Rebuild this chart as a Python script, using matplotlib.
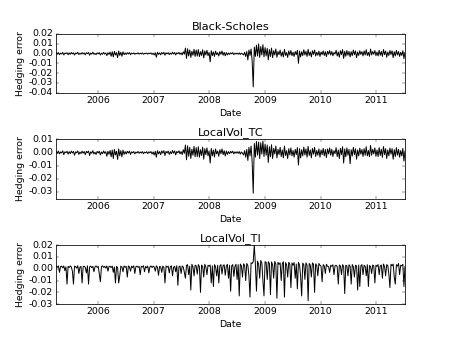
import matplotlib
matplotlib.use("Agg")
import matplotlib.pyplot as plt
import matplotlib.dates as mdates
from matplotlib.ticker import MultipleLocator, FormatStrFormatter
import numpy as np
import pandas as pd

# Hedging errors in units of 1e-3, roughly weekly from 2005-04 to 2011-07
bs_milli = [
    0.5,-0.8,0.9,-1.2,0.3,-0.5,1.1,-1.5,0.4,-0.2,0.8,-1.3,0.6,
    -0.9,1.0,-0.4,0.7,-1.6,0.5,-0.3,1.2,-1.1,0.2,-0.7,0.9,-0.5,
    0.6,-1.4,0.8,-0.2,1.0,-1.8,0.4,-0.6,1.3,-0.9,0.1,-1.2,0.7,
    -0.4,0.9,-1.5,0.3,-0.8,1.1,-0.6,0.5,-2.2,0.8,-1.0,1.4,-2.8,
    1.8,-3.5,2.2,-1.6,0.9,-4.2,2.5,-2.0,1.3,-2.8,1.7,-1.2,0.6,
    -1.0,0.8,-0.5,1.0,-1.2,0.4,-0.3,0.6,-0.9,0.2,-0.4,0.7,-0.6,
    0.3,-0.5,0.6,-0.8,0.2,-0.3,0.5,-0.7,0.4,-0.2,0.6,-1.0,0.3,
    -1.5,0.8,-3.8,1.2,-0.9,0.6,-1.4,1.0,-0.5,1.2,-1.8,0.7,-0.4,
    0.9,-1.2,0.5,-0.8,1.3,-0.6,1.0,-1.5,0.7,-0.3,1.1,-0.9,0.6,
    -1.4,1.8,-0.7,5.5,-5.0,4.8,-2.5,3.6,-4.0,2.2,-1.8,4.2,-3.0,
    3.5,-2.6,4.0,-3.2,1.8,-2.0,3.8,-4.5,2.6,-1.5,3.2,-2.2,1.0,
    -8.5,2.8,-2.2,1.6,-3.0,2.4,-1.2,0.8,-2.6,1.9,-0.9,2.5,-1.8,
    1.2,-2.4,0.9,-1.5,0.5,-1.0,0.7,-0.4,0.9,-1.2,0.3,-0.6,0.4,
    -0.8,0.6,-1.0,0.3,-0.5,-1.5,1.2,-3.0,2.0,-6.5,3.5,-2.0,4.5,
    -7.5,-34.0,6.5,-3.0,8.5,-2.5,9.8,-4.0,7.0,-1.5,9.0,-3.5,6.0,
    -2.5,5.2,-6.5,4.0,-3.0,5.5,-4.2,2.8,-1.5,4.6,-3.8,2.0,-1.2,
    3.5,-2.8,1.5,-3.5,4.2,-2.0,1.0,-4.0,2.6,-1.5,3.0,-2.2,1.2,
    -3.0,2.0,-1.2,3.2,-10.0,2.5,-3.5,1.8,-2.2,3.8,-1.5,2.2,-3.0,
    4.2,-2.0,1.5,-3.5,2.8,-1.0,3.5,-2.5,1.2,-1.8,2.4,-3.0,1.5,
    -1.2,2.6,-2.0,1.8,-3.2,2.2,-0.8,3.0,-1.5,2.0,-2.4,1.0,-0.6,
    3.2,-2.5,1.5,-3.8,2.8,-1.0,4.0,-5.0,2.2,-2.8,3.0,-1.8,2.0,
    -3.5,1.8,-2.2,3.5,-1.2,2.6,-4.2,1.5,-2.0,2.8,-1.0,1.9,-2.5,
    2.5,-1.5,3.8,-2.0,1.2,-2.8,4.5,-1.5,2.0,-0.8,3.0,-2.2,1.5,
    -2.5,3.2,-1.8,2.0,-3.0,4.0,-1.2,2.5,-3.8,1.5,-2.0,3.0,-1.0,
    2.6,-4.2,1.8,-2.5,3.2,-1.5,2.0,-3.0,1.2,-2.0,2.8,-5.2,1.0,
]

tc_milli = [
    0.8,-0.6,1.2,-1.0,0.5,-0.3,1.4,-1.6,0.6,-0.1,1.0,-1.2,0.7,
    -0.8,1.2,-0.3,0.9,-2.0,0.6,-0.2,1.3,-1.4,0.4,-0.8,1.1,-0.4,
    0.8,-1.6,1.0,-0.1,1.2,-2.2,0.6,-0.5,1.5,-1.1,0.3,-1.4,0.9,
    -0.3,1.1,-1.8,0.5,-0.9,1.3,-0.5,0.7,-2.8,1.0,-1.3,1.6,-3.2,
    2.0,-4.5,2.4,-1.8,1.1,-5.2,2.8,-2.4,1.5,-3.2,1.9,-1.4,0.8,
    -1.1,1.0,-0.4,1.2,-1.4,0.6,-0.2,0.8,-1.0,0.4,-0.3,0.9,-0.5,
    0.5,-0.4,0.8,-0.9,0.4,-0.2,0.7,-0.8,0.6,-0.1,0.8,-1.1,0.5,
    -1.8,1.0,-3.5,1.5,-1.0,0.8,-1.6,1.3,-0.4,1.5,-2.2,0.9,-0.3,
    1.2,-1.4,0.7,-0.9,1.6,-0.5,1.3,-1.8,0.9,-0.2,1.4,-1.0,0.8,
    -1.5,2.2,-0.6,5.8,-5.5,5.2,-2.8,4.0,-4.5,2.6,-2.0,4.8,-3.2,
    3.8,-3.0,4.5,-3.5,2.2,-2.2,4.2,-5.0,3.0,-1.6,3.6,-2.5,1.3,
    -8.0,3.2,-2.5,2.0,-3.4,2.8,-1.0,1.2,-2.8,2.2,-0.8,2.8,-1.6,
    1.5,-2.6,1.2,-1.4,0.8,-0.9,1.0,-0.3,1.1,-1.0,0.6,-0.5,0.7,
    -0.6,0.8,-1.2,0.5,-0.4,-1.8,1.5,-3.5,2.4,-6.0,4.0,-2.5,5.0,
    -7.0,-31.0,7.0,-3.5,8.5,-2.0,8.0,-4.5,7.5,-1.2,8.8,-3.0,6.5,
    -2.0,5.8,-7.5,4.5,-3.2,6.0,-4.5,3.2,-1.0,5.0,-4.0,2.5,-1.5,
    4.0,-3.0,2.0,-4.0,5.0,-2.2,1.5,-4.5,3.0,-1.8,3.5,-2.5,1.6,
    -3.5,2.5,-1.5,3.8,-9.5,3.0,-4.0,2.2,-2.5,4.2,-1.8,2.8,-3.5,
    4.8,-2.2,2.0,-4.0,3.2,-1.2,4.0,-3.0,1.6,-2.0,2.8,-3.5,2.0,
    -1.5,3.2,-2.5,2.4,-3.8,2.8,-1.0,3.6,-2.0,2.5,-3.0,1.5,-0.8,
    3.8,-3.0,2.0,-4.5,3.2,-1.5,4.5,-8.0,2.8,-3.2,3.6,-2.0,2.5,
    -8.5,2.2,-2.6,4.0,-1.5,3.0,-5.0,2.0,-2.5,3.4,-1.2,2.4,-3.0,
    3.0,-2.0,4.5,-2.5,1.6,-3.2,5.5,-2.0,2.5,-1.0,3.6,-2.8,2.0,
    -3.0,3.8,-2.2,2.5,-3.6,4.6,-1.5,3.0,-4.5,2.0,-2.5,3.5,-1.2,
    3.0,-5.0,2.2,-3.0,3.8,-2.0,2.5,-3.5,1.5,-2.5,3.2,-6.5,1.2,
]

ti_milli = [
    2.0,1.2,2.5,-3.0,1.8,2.2,0.8,2.4,-1.5,1.6,-13.0,2.0,1.0,
    2.4,1.5,-2.0,-13.0,2.2,1.8,0.5,2.6,-4.0,1.4,2.0,-12.0,1.8,
    2.2,1.0,-3.5,2.5,-13.0,1.6,2.3,0.9,2.0,-2.5,1.7,2.4,1.2,
    2.0,-4.5,-11.0,1.8,2.5,1.2,2.1,0.6,2.4,-2.0,1.9,2.2,1.0,
    2.3,-3.0,1.5,-12.0,2.0,1.1,-12.0,-6.0,2.2,1.6,-2.5,2.4,1.3,
    2.0,-7.0,2.4,1.5,-2.0,2.2,1.0,2.5,-4.0,1.8,2.3,1.2,2.0,
    -5.0,2.1,1.4,2.6,-2.5,1.9,0.8,2.3,-3.5,1.6,2.4,1.0,2.2,
    1.5,-2.0,2.5,1.2,-5.5,2.0,1.6,-3.0,2.3,1.1,-12.0,2.4,1.4,
    2.2,-3.5,1.8,2.5,-6.0,1.3,2.1,-2.5,2.6,-14.0,1.7,2.3,-4.0,
    2.4,1.5,-3.0,-8.0,2.8,3.5,-5.0,2.2,-18.0,3.8,1.6,-6.0,3.0,
    2.5,-4.5,3.6,1.8,-20.0,3.2,2.0,-7.0,3.8,1.5,-5.0,3.0,2.2,
    3.2,-12.0,2.5,-15.0,3.5,1.8,-6.0,3.0,-12.0,2.4,3.6,-4.5,2.8,
    3.4,-5.5,2.2,3.8,-8.0,3.0,-19.0,2.6,3.5,-6.5,2.0,3.8,-9.0,
    3.5,-23.0,4.0,2.5,-7.0,4.2,3.0,-10.0,4.5,2.8,-6.0,-24.0,5.0,
    4.5,6.0,20.0,3.5,-19.0,6.5,4.0,-8.0,7.0,5.0,-10.0,-23.0,6.0,
    5.5,-9.0,6.0,4.5,-22.0,5.8,3.5,-8.0,6.2,4.0,-25.0,5.5,3.8,
    5.0,-10.0,4.2,6.0,-24.0,5.2,3.5,-7.0,5.5,4.0,-16.0,5.0,3.0,
    5.2,-8.0,4.0,-17.0,5.5,3.2,-6.0,-23.0,4.8,3.5,-9.0,5.0,3.0,
    -27.0,4.5,3.2,-7.0,5.0,3.8,-20.0,4.2,2.8,-6.0,4.5,3.0,2.2,
    -11.0,3.5,2.5,-4.0,3.8,2.2,1.8,-3.0,3.0,2.0,3.4,-5.0,2.5,
    3.0,1.8,-13.0,3.2,2.4,-5.0,3.5,2.0,-21.0,3.0,2.5,-6.0,3.4,
    2.2,-13.0,3.6,1.8,-7.0,3.0,2.4,-18.0,3.2,-15.0,2.6,3.5,-5.0,
    3.0,2.2,-6.0,3.5,-15.0,2.8,1.8,-4.0,3.2,2.4,-12.0,3.0,2.0,
    3.6,-5.0,2.5,3.2,-8.0,4.0,2.0,-6.0,3.5,2.8,-4.5,-16.0,3.8,
    2.6,4.0,-7.0,-13.0,3.5,2.2,4.5,-5.0,3.0,2.5,3.8,-15.0,2.0,
]

titles = ["Black-Scholes", "LocalVol_TC", "LocalVol_TI"]
series = [bs_milli, tc_milli, ti_milli]
ylims = [(-0.04, 0.02), (-0.035, 0.01), (-0.03, 0.02)]
start_date, end_date = "2005-04-01", "2011-07-08"

plt.style.use("classic")
plt.rcParams["font.family"] = ["DejaVu Sans"]

fig, axes = plt.subplots(3, 1, figsize=(8, 338 / 56.25), dpi=56.25)
fig.patch.set_facecolor("white")
fig.subplots_adjust(left=0.125, right=0.9, bottom=0.1, top=0.9, hspace=0.79)

for ax, title, vals, yl in zip(axes, titles, series, ylims):
    v = np.asarray(vals) * 1e-3
    dates = pd.date_range(start_date, end_date, periods=len(v))
    ax.plot(dates, v, color="k", linewidth=1.25)
    ax.set_title(title)
    ax.set_xlabel("Date")
    ax.set_ylabel("Hedging error")
    ax.set_xlim(pd.Timestamp(start_date), pd.Timestamp(end_date))
    ax.set_ylim(*yl)
    ax.yaxis.set_major_locator(MultipleLocator(0.01))
    ax.yaxis.set_major_formatter(FormatStrFormatter("%.2f"))
    ax.xaxis.set_major_locator(mdates.YearLocator())
    ax.xaxis.set_major_formatter(mdates.DateFormatter("%Y"))

fig.savefig("out.png", dpi=56.25, facecolor="white")
